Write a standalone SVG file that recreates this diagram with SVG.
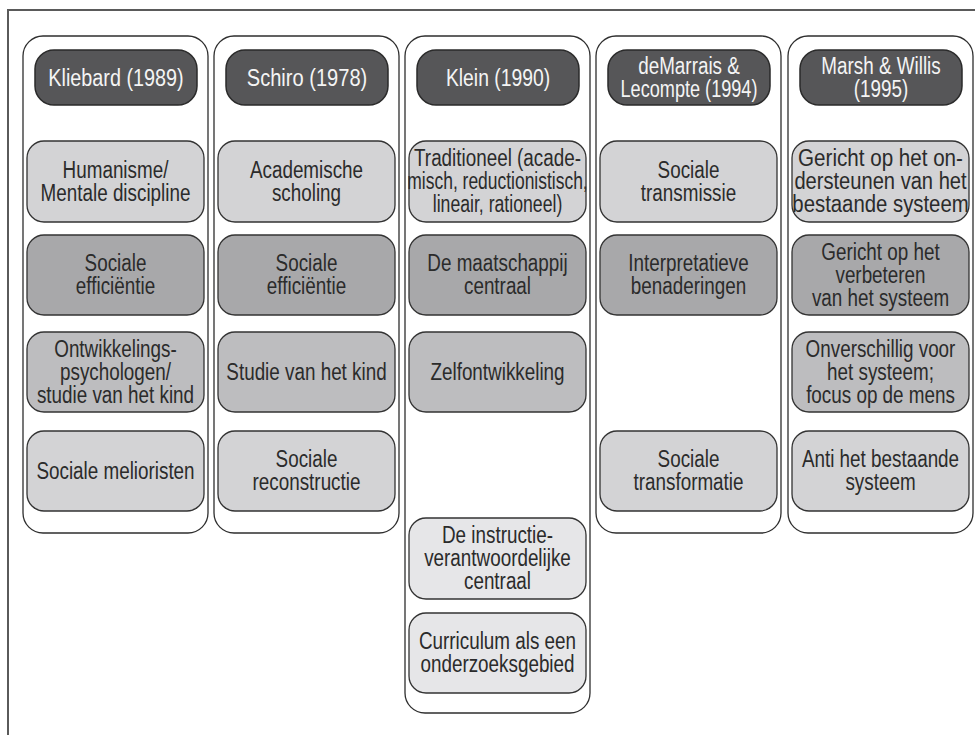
<svg xmlns="http://www.w3.org/2000/svg" width="975" height="735" viewBox="0 0 975 735">
  <style>
    .frame { fill: none; stroke: #5a5a5a; stroke-width: 2; }
    .col { fill: #ffffff; stroke: #2e2e2e; stroke-width: 1.3; }
    .hd { fill: #565658; stroke: #2a2a2a; stroke-width: 1.5; }
    .box { stroke: #333333; stroke-width: 1.3; }
    .r1 { fill: #d3d3d5; }
    .r2 { fill: #a8a8aa; }
    .r3 { fill: #bdbdbf; }
    .r5 { fill: #e6e6e8; }
    text { font-family: "Liberation Sans", Arial, sans-serif; font-size: 23px; text-anchor: middle; }
    .ht { fill: #f4f4f4; }
    .bt { fill: #2b2b2b; }
  </style>

  <!-- figure frame (top and left edges) -->
  <path class="frame" d="M8 735 V10 H975"/>

  <!-- column 1 -->
  <g id="col-kliebard">
    <rect class="col" x="23" y="36" width="185" height="497" rx="20"/>
    <g id="kliebard-head">
      <rect class="hd" x="35" y="50" width="162" height="55" rx="19"/>
      <text class="ht" transform="matrix(.82 0 0 1 116 0)"><tspan x="0" y="86" textLength="165" lengthAdjust="spacingAndGlyphs">Kliebard (1989)</tspan></text>
    </g>
    <g id="kliebard-1">
      <rect class="box r1" x="27" y="141" width="177" height="81" rx="17"/>
      <text class="bt" transform="matrix(.82 0 0 1 115.5 0)"><tspan x="0" y="178">Humanisme/</tspan><tspan x="0" y="201">Mentale discipline</tspan></text>
    </g>
    <g id="kliebard-2">
      <rect class="box r2" x="27" y="235" width="177" height="80" rx="17"/>
      <text class="bt" transform="matrix(.82 0 0 1 115.5 0)"><tspan x="0" y="271.5">Sociale</tspan><tspan x="0" y="294.5">efficiëntie</tspan></text>
    </g>
    <g id="kliebard-3">
      <rect class="box r3" x="27" y="332" width="177" height="80" rx="17"/>
      <text class="bt" transform="matrix(.82 0 0 1 115.5 0)"><tspan x="0" y="357">Ontwikkelings-</tspan><tspan x="0" y="380">psychologen/</tspan><tspan x="0" y="403">studie van het kind</tspan></text>
    </g>
    <g id="kliebard-4">
      <rect class="box r1" x="27" y="431" width="177" height="80" rx="17"/>
      <text class="bt" transform="matrix(.82 0 0 1 115.5 0)"><tspan x="0" y="479">Sociale melioristen</tspan></text>
    </g>
  </g>

  <!-- column 2 -->
  <g id="col-schiro">
    <rect class="col" x="214" y="36" width="185" height="497" rx="20"/>
    <g id="schiro-head">
      <rect class="hd" x="226" y="50" width="162" height="55" rx="19"/>
      <text class="ht" transform="matrix(.82 0 0 1 307 0)"><tspan x="0" y="86" textLength="147" lengthAdjust="spacingAndGlyphs">Schiro (1978)</tspan></text>
    </g>
    <g id="schiro-1">
      <rect class="box r1" x="218" y="141" width="177" height="81" rx="17"/>
      <text class="bt" transform="matrix(.82 0 0 1 306.5 0)"><tspan x="0" y="178">Academische</tspan><tspan x="0" y="201">scholing</tspan></text>
    </g>
    <g id="schiro-2">
      <rect class="box r2" x="218" y="235" width="177" height="80" rx="17"/>
      <text class="bt" transform="matrix(.82 0 0 1 306.5 0)"><tspan x="0" y="271.5">Sociale</tspan><tspan x="0" y="294.5">efficiëntie</tspan></text>
    </g>
    <g id="schiro-3">
      <rect class="box r3" x="218" y="332" width="177" height="80" rx="17"/>
      <text class="bt" transform="matrix(.82 0 0 1 306.5 0)"><tspan x="0" y="380">Studie van het kind</tspan></text>
    </g>
    <g id="schiro-4">
      <rect class="box r1" x="218" y="431" width="177" height="80" rx="17"/>
      <text class="bt" transform="matrix(.82 0 0 1 306.5 0)"><tspan x="0" y="467.5">Sociale</tspan><tspan x="0" y="490.5">reconstructie</tspan></text>
    </g>
  </g>

  <!-- column 3 -->
  <g id="col-klein">
    <rect class="col" x="405" y="36" width="185" height="677" rx="20"/>
    <g id="klein-head">
      <rect class="hd" x="417" y="50" width="162" height="55" rx="19"/>
      <text class="ht" transform="matrix(.82 0 0 1 498 0)"><tspan x="0" y="86" textLength="127" lengthAdjust="spacingAndGlyphs">Klein (1990)</tspan></text>
    </g>
    <g id="klein-1">
      <rect class="box r1" x="409" y="141" width="177" height="81" rx="17"/>
      <text class="bt" transform="matrix(.82 0 0 1 497.5 0)"><tspan x="0" y="166.5">Traditioneel (acade-</tspan><tspan x="0" y="189.5" textLength="220" lengthAdjust="spacingAndGlyphs">misch, reductionistisch,</tspan><tspan x="0" y="212.5" textLength="158" lengthAdjust="spacingAndGlyphs">lineair, rationeel)</tspan></text>
    </g>
    <g id="klein-2">
      <rect class="box r2" x="409" y="235" width="177" height="80" rx="17"/>
      <text class="bt" transform="matrix(.82 0 0 1 497.5 0)"><tspan x="0" y="271.5">De maatschappij</tspan><tspan x="0" y="294.5">centraal</tspan></text>
    </g>
    <g id="klein-3">
      <rect class="box r3" x="409" y="332" width="177" height="80" rx="17"/>
      <text class="bt" transform="matrix(.82 0 0 1 497.5 0)"><tspan x="0" y="380">Zelfontwikkeling</tspan></text>
    </g>
    <g id="klein-4">
      <rect class="box r5" x="409" y="518" width="177" height="81" rx="17"/>
      <text class="bt" transform="matrix(.82 0 0 1 497.5 0)"><tspan x="0" y="543.5">De instructie-</tspan><tspan x="0" y="566.5">verantwoordelijke</tspan><tspan x="0" y="589.5">centraal</tspan></text>
    </g>
    <g id="klein-5">
      <rect class="box r5" x="409" y="613" width="177" height="80" rx="17"/>
      <text class="bt" transform="matrix(.82 0 0 1 497.5 0)"><tspan x="0" y="649.5">Curriculum als een</tspan><tspan x="0" y="672.5">onderzoeksgebied</tspan></text>
    </g>
  </g>

  <!-- column 4 -->
  <g id="col-demarrais">
    <rect class="col" x="596" y="36" width="185" height="497" rx="20"/>
    <g id="demarrais-head">
      <rect class="hd" x="608" y="50" width="162" height="55" rx="19"/>
      <text class="ht" transform="matrix(.82 0 0 1 689 0)"><tspan x="0" y="74">deMarrais &amp;</tspan><tspan x="0" y="97" textLength="167" lengthAdjust="spacingAndGlyphs">Lecompte (1994)</tspan></text>
    </g>
    <g id="demarrais-1">
      <rect class="box r1" x="600" y="141" width="177" height="81" rx="17"/>
      <text class="bt" transform="matrix(.82 0 0 1 688.5 0)"><tspan x="0" y="178">Sociale</tspan><tspan x="0" y="201">transmissie</tspan></text>
    </g>
    <g id="demarrais-2">
      <rect class="box r2" x="600" y="235" width="177" height="80" rx="17"/>
      <text class="bt" transform="matrix(.82 0 0 1 688.5 0)"><tspan x="0" y="271.5">Interpretatieve</tspan><tspan x="0" y="294.5">benaderingen</tspan></text>
    </g>
    <g id="demarrais-4">
      <rect class="box r1" x="600" y="431" width="177" height="80" rx="17"/>
      <text class="bt" transform="matrix(.82 0 0 1 688.5 0)"><tspan x="0" y="467.5">Sociale</tspan><tspan x="0" y="490.5">transformatie</tspan></text>
    </g>
  </g>

  <!-- column 5 -->
  <g id="col-marsh">
    <rect class="col" x="788" y="36" width="185" height="497" rx="20"/>
    <g id="marsh-head">
      <rect class="hd" x="800" y="50" width="162" height="55" rx="19"/>
      <text class="ht" transform="matrix(.82 0 0 1 881 0)"><tspan x="0" y="74">Marsh &amp; Willis</tspan><tspan x="0" y="97">(1995)</tspan></text>
    </g>
    <g id="marsh-1">
      <rect class="box r1" x="792" y="141" width="177" height="81" rx="17"/>
      <text class="bt" transform="matrix(.82 0 0 1 880.5 0)"><tspan x="0" y="166.5" textLength="201" lengthAdjust="spacingAndGlyphs">Gericht op het on-</tspan><tspan x="0" y="189.5" textLength="210" lengthAdjust="spacingAndGlyphs">dersteunen van het</tspan><tspan x="0" y="212.5" textLength="215" lengthAdjust="spacingAndGlyphs">bestaande systeem</tspan></text>
    </g>
    <g id="marsh-2">
      <rect class="box r2" x="792" y="235" width="177" height="80" rx="17"/>
      <text class="bt" transform="matrix(.82 0 0 1 880.5 0)"><tspan x="0" y="260">Gericht op het</tspan><tspan x="0" y="283">verbeteren</tspan><tspan x="0" y="306">van het systeem</tspan></text>
    </g>
    <g id="marsh-3">
      <rect class="box r3" x="792" y="332" width="177" height="80" rx="17"/>
      <text class="bt" transform="matrix(.82 0 0 1 880.5 0)"><tspan x="0" y="357">Onverschillig voor</tspan><tspan x="0" y="380">het systeem;</tspan><tspan x="0" y="403">focus op de mens</tspan></text>
    </g>
    <g id="marsh-4">
      <rect class="box r1" x="792" y="431" width="177" height="80" rx="17"/>
      <text class="bt" transform="matrix(.82 0 0 1 880.5 0)"><tspan x="0" y="467.5">Anti het bestaande</tspan><tspan x="0" y="490.5">systeem</tspan></text>
    </g>
  </g>

  <!-- no connectors in this figure -->
  <g id="connectors"/>
</svg>
